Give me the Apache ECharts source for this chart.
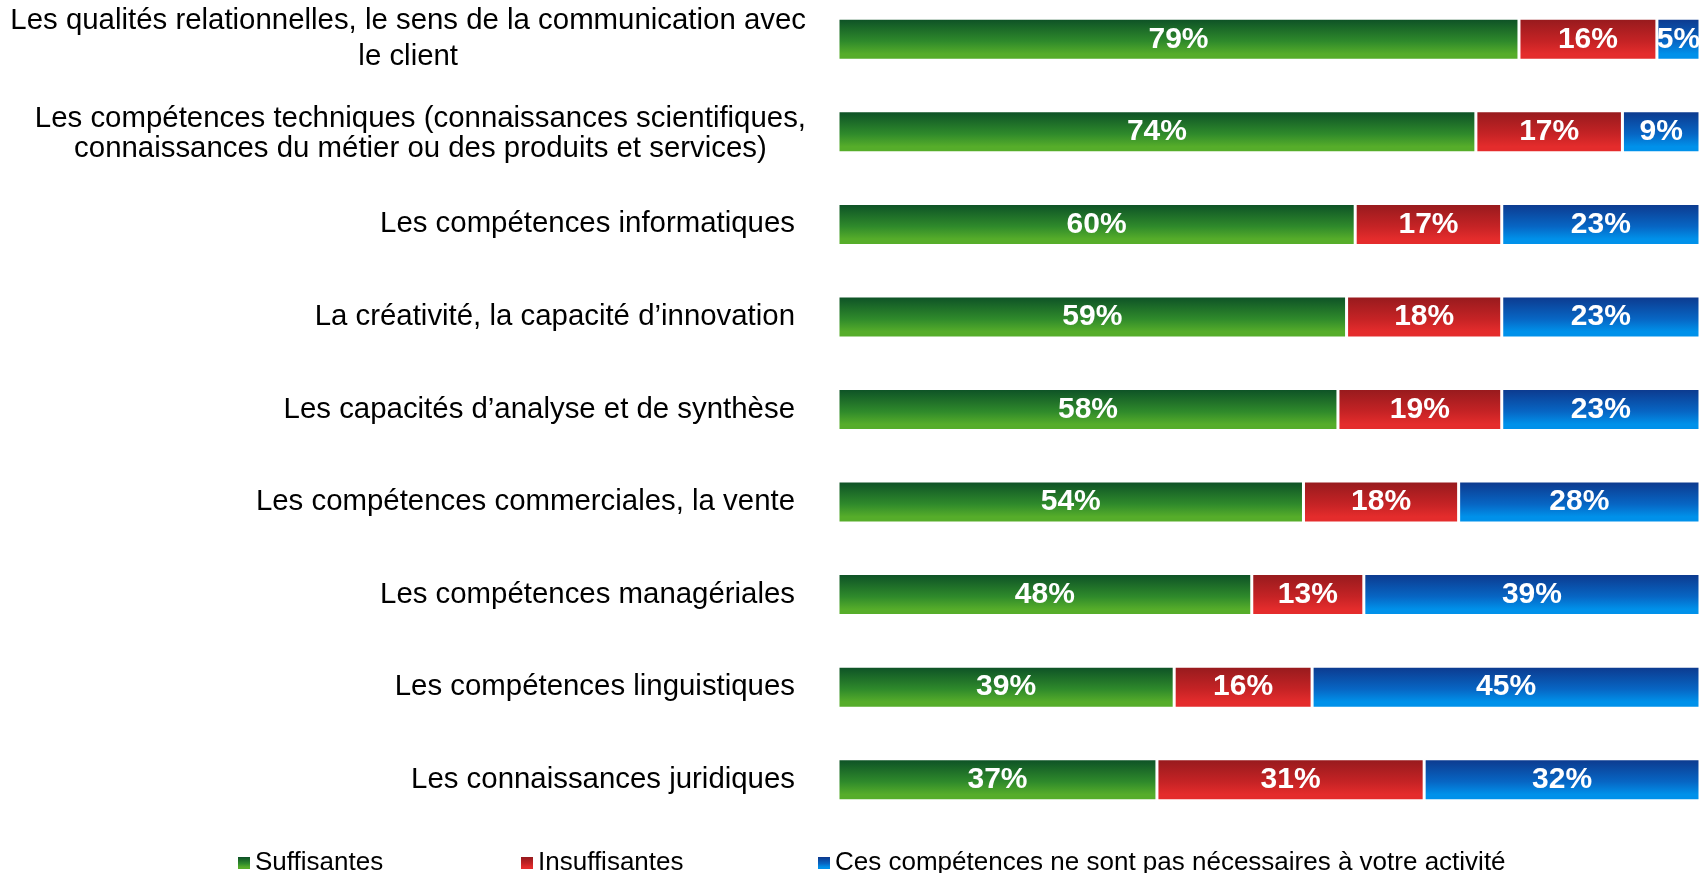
<!DOCTYPE html>
<html>
<head>
<meta charset="utf-8">
<script src="https://cdn.jsdelivr.net/npm/echarts@6/dist/echarts.min.js"></script>
<style>
  html, body { margin: 0; padding: 0; background: #ffffff; }
  #chart { width: 1700px; height: 873px; }
</style>
</head>
<body>
<div id="chart"></div>
<script>
// Skills, listed top to bottom
const categories = [
  "Les qualités relationnelles, le sens de la communication avec\nle client",
  "Les compétences techniques (connaissances scientifiques,\nconnaissances du métier ou des produits et services)",
  "Les compétences informatiques",
  "La créativité, la capacité d’innovation",
  "Les capacités d’analyse et de synthèse",
  "Les compétences commerciales, la vente",
  "Les compétences managériales",
  "Les compétences linguistiques",
  "Les connaissances juridiques"
];

const seriesNames = [
  "Suffisantes",
  "Insuffisantes",
  "Ces compétences ne sont pas nécessaires à votre activité"
];

// Shares in percent
const suffisantes    = [79, 74, 60, 59, 58, 54, 48, 39, 37];
const insuffisantes  = [16, 17, 17, 18, 19, 18, 13, 16, 31];
const nonNecessaires = [5, 9, 23, 23, 23, 28, 39, 45, 32];

const FONT = "'Liberation Sans', Arial, Helvetica, sans-serif";
const LABEL_SIZE = 29.4;

function vGrad(top, mid, bottom) {
  return new echarts.graphic.LinearGradient(0, 0, 0, 1, [
    { offset: 0, color: top },
    { offset: 0.55, color: mid },
    { offset: 0.85, color: bottom },
    { offset: 1, color: bottom }
  ]);
}

const palette = [
  vGrad('#0c4f26', '#2f8a2b', '#56ad2a'),
  vGrad('#951a1d', '#c52325', '#e42c2c'),
  vGrad('#0d388c', '#0766c4', '#0091ea')
];

const values = [suffisantes, insuffisantes, nonNecessaires];

const chart = echarts.init(document.getElementById('chart'), null, { renderer: 'canvas' });

const series = seriesNames.map((name, i) => ({
  name: name,
  type: 'bar',
  stack: 'total',
  barWidth: 42,
  data: values[i],
  itemStyle: {
    color: palette[i],
    borderColor: '#ffffff',
    borderWidth: 1.5
  },
  label: {
    show: true,
    position: 'inside',
    formatter: '{c}%',
    color: '#ffffff',
    fontFamily: FONT,
    fontWeight: 'bold',
    fontSize: 30
  },
  emphasis: { disabled: true }
}));

const legendLefts = [233, 516, 813];

// Category labels: single lines sit a little further from the bars,
// two-line labels are centred line by line.
function formatCategory(v, idx) {
  const lines = v.split('\n');
  if (lines.length === 1) return '{s|' + v + '}';
  if (idx === 0) return lines.map(l => '{a|' + l + '}').join('\n');
  return lines.map((l, k) => '{' + (k === 0 ? 'b1' : 'b2') + '|' + l + '}').join('\n');
}

const labelBase = { fontFamily: FONT, fontSize: LABEL_SIZE, color: '#000000' };

chart.setOption({
  animation: false,
  backgroundColor: '#ffffff',
  grid: {
    left: 838, right: 0, top: -7, bottom: 47,
    containLabel: false,
    outerBoundsMode: 'none'
  },
  xAxis: {
    type: 'value',
    min: 0,
    max: 100,
    show: false
  },
  yAxis: {
    type: 'category',
    inverse: true,
    data: categories,
    axisLine: { show: false },
    axisTick: { show: false },
    splitLine: { show: false },
    axisLabel: {
      margin: 32,
      align: 'right',
      color: '#000000',
      fontFamily: FONT,
      fontSize: LABEL_SIZE,
      formatter: formatCategory,
      rich: {
        s: Object.assign({ lineHeight: 34, padding: [0, 11, 0, 0] }, labelBase),
        a: Object.assign({ align: 'center', lineHeight: 36 }, labelBase),
        b1: Object.assign({ align: 'center', lineHeight: 34 }, labelBase),
        b2: Object.assign({ align: 'center', lineHeight: 26 }, labelBase)
      }
    }
  },
  legend: seriesNames.map((n, i) => ({
    data: [n],
    left: legendLefts[i],
    top: 845,
    icon: 'rect',
    itemWidth: 12,
    itemHeight: 12,
    selectedMode: false,
    itemStyle: { borderWidth: 0 },
    textStyle: { fontFamily: FONT, fontSize: 26, color: '#000000' }
  })),
  series: series
});
</script>
</body>
</html>
